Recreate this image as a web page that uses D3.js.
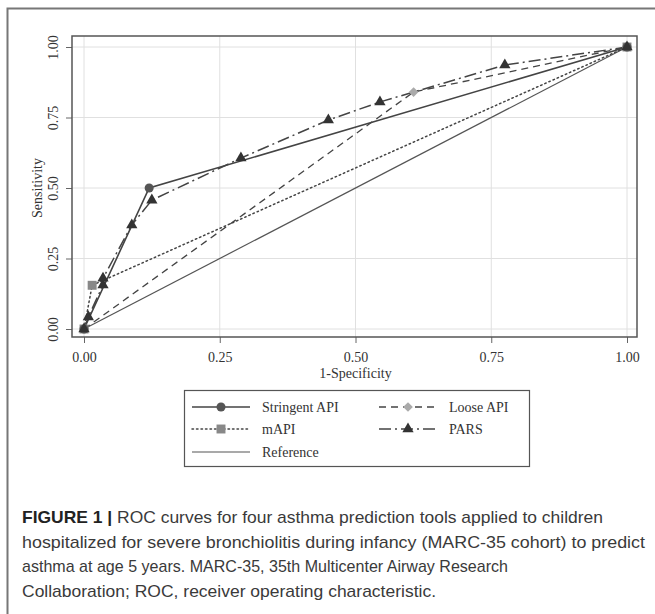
<!DOCTYPE html>
<html>
<head>
<meta charset="utf-8">
<script src="https://cdn.jsdelivr.net/npm/d3@7"></script>
<style>
  body { margin: 0; background: #fff; }
  svg { display: block; }
  .tick-label, .axis-title, .legend-text { font-family: "Liberation Serif", "DejaVu Serif", serif; fill: #333; }
  .caption { font-family: "Liberation Sans", Arial, sans-serif; fill: #3a3a3a; }
</style>
</head>
<body>
<div id="chart"></div>
<script>
// Data (x = 1-Specificity, y = Sensitivity)
const stringentX = [0, 0.12, 1];
const stringentY = [0, 0.50, 1];

const looseX = [0, 0.607, 1];
const looseY = [0, 0.84, 1];

const mapiX = [0, 0.015, 1];
const mapiY = [0, 0.155, 1];

const parsX = [0, 0.008, 0.035, 0.035, 0.088, 0.125, 0.289, 0.45, 0.545, 0.775, 1];
const parsY = [0, 0.043, 0.156, 0.18, 0.369, 0.457, 0.606, 0.741, 0.805, 0.936, 1];

const referenceX = [0, 1];
const referenceY = [0, 1];

const tickValues = [0, 0.25, 0.5, 0.75, 1];
const tickLabels = ["0.00", "0.25", "0.50", "0.75", "1.00"];

const captionLines = [
    ["FIGURE 1 | ", "ROC curves for four asthma prediction tools applied to children"],
    ["", "hospitalized for severe bronchiolitis during infancy (MARC-35 cohort) to predict"],
    ["", "asthma at age 5 years. MARC-35, 35th Multicenter Airway Research"],
    ["", "Collaboration; ROC, receiver operating characteristic."]
];
const captionWidths = [581, 623, 486, 414];

// Series styling
const series = [
    { name: "Reference", xs: referenceX, ys: referenceY, stroke: "#555", width: 1.2, dash: null, marker: null },
    { name: "mAPI", xs: mapiX, ys: mapiY, stroke: "#444", width: 1.5, dash: "1.5,3", marker: d3.symbolSquare, size: 80, fill: "#888" },
    { name: "Loose API", xs: looseX, ys: looseY, stroke: "#444", width: 1.3, dash: "7,5", marker: d3.symbolDiamond2, size: 60, fill: "#aaa" },
    { name: "Stringent API", xs: stringentX, ys: stringentY, stroke: "#444", width: 1.6, dash: null, marker: d3.symbolCircle, size: 64, fill: "#555" },
    { name: "PARS", xs: parsX, ys: parsY, stroke: "#444", width: 1.5, dash: "12,4,2,4", marker: d3.symbolTriangle, size: 55, fill: "#333" }
];

const W = 655, H = 614;
const svg = d3.select("#chart").append("svg")
    .attr("width", W)
    .attr("height", H);

// Figure border (top and left)
svg.append("path")
    .attr("d", `M7.5,${H} L7.5,8.5 L${W},8.5`)
    .attr("fill", "none")
    .attr("stroke", "#777")
    .attr("stroke-width", 2);

// Scales
const xScale = d3.scaleLinear().domain([0, 1]).range([84, 627]);
const yScale = d3.scaleLinear().domain([0, 1]).range([329, 47]);

const frame = { left: 72, right: 637, top: 36, bottom: 337 };

// Grid lines
const grid = svg.append("g");
grid.selectAll(".vg").data(tickValues).enter().append("line")
    .attr("x1", d => xScale(d)).attr("x2", d => xScale(d))
    .attr("y1", frame.top).attr("y2", frame.bottom)
    .attr("stroke", "#e0e0e0").attr("stroke-width", 1);
grid.selectAll(".hg").data(tickValues).enter().append("line")
    .attr("x1", frame.left).attr("x2", frame.right)
    .attr("y1", d => yScale(d)).attr("y2", d => yScale(d))
    .attr("stroke", "#e0e0e0").attr("stroke-width", 1);

// Axes
const xAxis = d3.axisBottom(xScale).tickValues(tickValues).tickSize(6).tickFormat((d, i) => tickLabels[i]);
const yAxis = d3.axisLeft(yScale).tickValues(tickValues).tickSize(6).tickFormat((d, i) => tickLabels[i]);

const gx = svg.append("g")
    .attr("transform", `translate(0, ${frame.bottom})`)
    .call(xAxis);
gx.select(".domain").remove();
gx.selectAll(".tick line").attr("stroke", "#666");
gx.selectAll(".tick text")
    .attr("class", "tick-label")
    .attr("font-size", 14)
    .attr("y", 12)
    .attr("dy", "0.9em");

const gy = svg.append("g")
    .attr("transform", `translate(${frame.left}, 0)`)
    .call(yAxis);
gy.select(".domain").remove();
gy.selectAll(".tick line").attr("stroke", "#666");
gy.selectAll(".tick text")
    .attr("class", "tick-label")
    .attr("font-size", 14)
    .attr("x", null)
    .attr("dy", null)
    .attr("text-anchor", "middle")
    .attr("transform", "translate(-14, 0) rotate(-90)")
    .attr("y", 0);

// Plot frame
svg.append("rect")
    .attr("x", frame.left).attr("y", frame.top)
    .attr("width", frame.right - frame.left)
    .attr("height", frame.bottom - frame.top)
    .attr("fill", "none")
    .attr("stroke", "#555")
    .attr("stroke-width", 1.5);

// Axis titles
svg.append("text")
    .attr("class", "axis-title")
    .attr("font-size", 14)
    .attr("text-anchor", "middle")
    .attr("x", xScale(0.5))
    .attr("y", 378)
    .text("1-Specificity");

svg.append("text")
    .attr("class", "axis-title")
    .attr("font-size", 14)
    .attr("text-anchor", "middle")
    .attr("transform", `translate(42, ${yScale(0.5)}) rotate(-90)`)
    .text("Sensitivity");

// Lines
const line = d3.line()
    .x(d => xScale(d[0]))
    .y(d => yScale(d[1]));

const plot = svg.append("g");
series.forEach(s => {
    const pts = s.xs.map((x, i) => [x, s.ys[i]]);
    plot.append("path")
        .datum(pts)
        .attr("d", line)
        .attr("fill", "none")
        .attr("stroke", s.stroke)
        .attr("stroke-width", s.width)
        .attr("stroke-dasharray", s.dash)
        .attr("stroke-linecap", s.dash === "1.5,3" ? "round" : "butt");
});

// Markers on top
series.filter(s => s.marker).forEach(s => {
    const pts = s.xs.map((x, i) => [x, s.ys[i]]);
    plot.selectAll(null).data(pts).enter().append("path")
        .attr("d", d3.symbol().type(s.marker).size(s.size))
        .attr("transform", d => `translate(${xScale(d[0])}, ${yScale(d[1])})`)
        .attr("fill", s.fill)
        .attr("stroke", "none");
});

// Legend
const legend = svg.append("g");
legend.append("rect")
    .attr("x", 184.5).attr("y", 390.5)
    .attr("width", 345).attr("height", 76)
    .attr("fill", "#fff")
    .attr("stroke", "#555")
    .attr("stroke-width", 1.2);

const legendItems = [
    { s: "Stringent API", col: 0, row: 0 },
    { s: "Loose API", col: 1, row: 0 },
    { s: "mAPI", col: 0, row: 1 },
    { s: "PARS", col: 1, row: 1 },
    { s: "Reference", col: 0, row: 2 }
];
const colX = [192, 379];
const rowY = [407, 429, 452];

legendItems.forEach(item => {
    const s = series.find(d => d.name === item.s);
    const x0 = colX[item.col], y0 = rowY[item.row];
    legend.append("line")
        .attr("x1", x0).attr("x2", x0 + 58)
        .attr("y1", y0).attr("y2", y0)
        .attr("stroke", s.stroke)
        .attr("stroke-width", s.width)
        .attr("stroke-dasharray", s.dash)
        .attr("stroke-linecap", s.dash === "1.5,3" ? "round" : "butt");
    if (s.marker) {
        legend.append("path")
            .attr("d", d3.symbol().type(s.marker).size(s.size))
            .attr("transform", `translate(${x0 + 29}, ${y0})`)
            .attr("fill", s.fill);
    }
    legend.append("text")
        .attr("class", "legend-text")
        .attr("font-size", 14)
        .attr("x", x0 + 70)
        .attr("y", y0 + 5)
        .text(item.s);
});

// Caption
const baselines = [523, 548, 572, 597];
captionLines.forEach((parts, i) => {
    const t = svg.append("text")
        .attr("class", "caption")
        .attr("font-size", 17)
        .attr("x", 22)
        .attr("y", baselines[i])
        .attr("textLength", captionWidths[i])
        .attr("lengthAdjust", "spacingAndGlyphs");
    if (parts[0]) {
        t.append("tspan").attr("font-weight", "bold").attr("fill", "#222").text(parts[0]);
    }
    t.append("tspan").text(parts[1]);
});
</script>
</body>
</html>
